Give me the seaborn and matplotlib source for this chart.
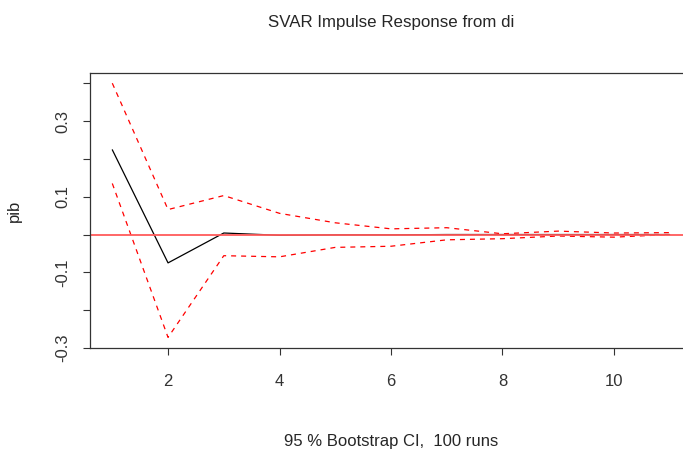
import numpy as np
import pandas as pd
import seaborn as sns
import matplotlib.pyplot as plt

# horizonte y respuestas
steps = np.arange(1, 12)
irf = [0.224, -0.075, 0.004, -0.002, -0.001, -0.001, 0.0, 0.0, 0.0, 0.0, 0.0]
upper = [0.400, 0.066, 0.103, 0.056, 0.031, 0.015, 0.018, 0.002, 0.009, 0.004, 0.005]
lower = [0.135, -0.272, -0.056, -0.059, -0.034, -0.031, -0.014, -0.011, -0.004, -0.007, 0.0]

y_ticks = [-0.3, -0.2, -0.1, 0.0, 0.1, 0.2, 0.3, 0.4]
y_labels = ["-0.3", "", "-0.1", "", "0.1", "", "0.3", ""]
x_ticks = [2, 4, 6, 8, 10]

sns.set_theme(style="white")
plt.rcParams['font.family'] = ['Liberation Sans', 'DejaVu Sans']

df = pd.DataFrame({'step': steps, 'irf': irf, 'upper': upper, 'lower': lower})

fig = plt.figure(figsize=(6.83, 4.53), dpi=100)
ax = fig.add_axes([90 / 683, 105 / 453, 602 / 683, 275 / 453])

sns.lineplot(data=df, x='step', y='irf', color='black', linewidth=0.9, ax=ax)
sns.lineplot(data=df, x='step', y='upper', color='red', linewidth=0.9, ax=ax)
sns.lineplot(data=df, x='step', y='lower', color='red', linewidth=0.9, ax=ax)
ax.lines[1].set_dashes([4, 4])
ax.lines[2].set_dashes([4, 4])
ax.axhline(0, color='#ff5a5a', linewidth=1.3)

ax.set_xlim(0.6, 11.4)
ax.set_ylim(-0.299, 0.427)
ax.set_xticks(x_ticks)
ax.set_yticks(y_ticks)
ax.set_yticklabels(y_labels, rotation=90, va='center')
ax.tick_params(axis='both', which='both', direction='out', length=5, width=0.8,
               colors='#333333', labelsize=12, left=True, bottom=True, pad=9)
ax.tick_params(axis='x', pad=14)
for side in ['left', 'top', 'bottom']:
    ax.spines[side].set_color('#333333')
    ax.spines[side].set_linewidth(0.9)
ax.spines['right'].set_visible(False)

ax.set_xlabel('95 % Bootstrap CI,  100 runs', fontsize=12, labelpad=32)
ax.set_ylabel('pib', fontsize=12, labelpad=24)
ax.set_title('SVAR Impulse Response from di', fontsize=12.2, pad=33)

fig.savefig('out.png', dpi=100)
